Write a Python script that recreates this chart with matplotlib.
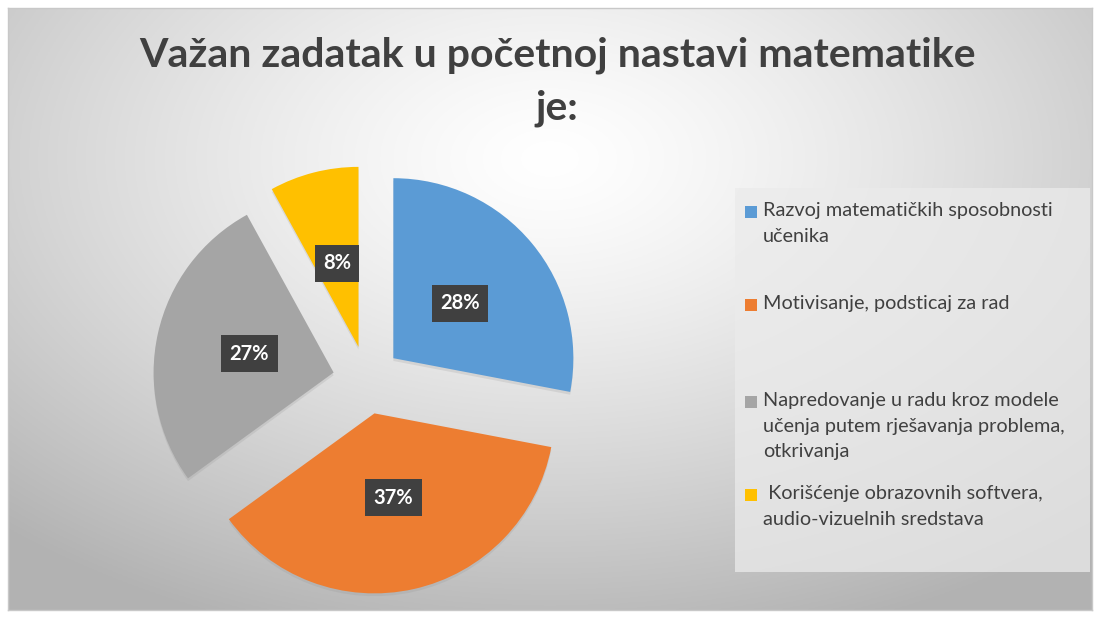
import numpy as np
import matplotlib
matplotlib.use("Agg")
import matplotlib.pyplot as plt
from matplotlib.patches import Rectangle
import matplotlib.patheffects as pe

title = "Važan zadatak u početnoj nastavi matematike\nje:"
categories = [
    "Razvoj matematičkih sposobnosti\nučenika",
    "Motivisanje, podsticaj za rad",
    "Napredovanje u radu kroz modele\nučenja putem rješavanja problema,\notkrivanja",
    " Korišćenje obrazovnih softvera,\naudio-vizuelnih sredstava",
]
shares = [28, 37, 27, 8]
colors = ["#5B9BD5", "#ED7D31", "#A5A5A5", "#FFC000"]

W, H = 1099, 618
fig = plt.figure(figsize=(W / 100, H / 100), dpi=100)
fig.patch.set_facecolor("white")

# background with radial gradient and thin border
bg = fig.add_axes([8 / W, 8 / H, 1084 / W, 602 / H])
yy, xx = np.mgrid[0:1:300j, 0:1:540j]
r = np.sqrt(((xx - 0.5) * 1.0) ** 2 + ((yy - 0.25) * 0.9) ** 2)
shade = 1.0 - 0.30 * np.clip(r / 0.75, 0, 1) ** 1.3
bg.imshow(np.dstack([shade] * 3), aspect="auto", extent=[0, 1, 0, 1], origin="upper")
bg.set_xticks([])
bg.set_yticks([])
for s in bg.spines.values():
    s.set_color("#c8c8c8")
    s.set_linewidth(1)

fig.text(557 / W, 1 - 82 / H, title, ha="center", va="center", fontsize=29.5,
         family="Lato", fontweight="bold", color="#404040", linespacing=1.5)

# pie
R = 184
cx, cy = 367, H - 380
half = 225
ax = fig.add_axes([(cx - half) / W, (cy - half) / H, 2 * half / W, 2 * half / H])
ax.set_xlim(-half / R, half / R)
ax.set_ylim(-half / R, half / R)
ax.set_aspect("equal")
ax.axis("off")
wedges, _, autotexts = ax.pie(
    shares, colors=colors, startangle=90, counterclock=False,
    explode=[0.19] * len(shares), radius=1.0,
    autopct=lambda p: f"{p:.0f}%", pctdistance=0.48,
    wedgeprops=dict(linewidth=0),
)
for w in wedges:
    w.set_path_effects([pe.SimplePatchShadow(offset=(0, -2), shadow_rgbFace="#909090", alpha=0.2),
                        pe.Normal()])
for t in autotexts:
    t.set_color("white")
    t.set_fontsize(14.5)
    t.set_fontweight("bold")
    t.set_family("Lato")
    t.set_bbox(dict(boxstyle="square,pad=0.42", facecolor="#404040", edgecolor="none"))

# legend panel
fig.add_artist(Rectangle((735 / W, 1 - 572 / H), 355 / W, 384 / H, transform=fig.transFigure,
                         facecolor="#ebebeb", edgecolor="none", alpha=0.75))
entry_tops = [212, 305, 402, 495]
for label, c, top in zip(categories, colors, entry_tops):
    fig.add_artist(Rectangle((745 / W, 1 - (top + 6) / H), 12 / W, 12 / H,
                             transform=fig.transFigure, facecolor=c, edgecolor="none"))
    fig.text(763 / W, 1 - (top - 10) / H, label, ha="left", va="top", fontsize=14.3,
             family="Lato", color="#404040", linespacing=1.62)

fig.savefig("out.png", dpi=100)
